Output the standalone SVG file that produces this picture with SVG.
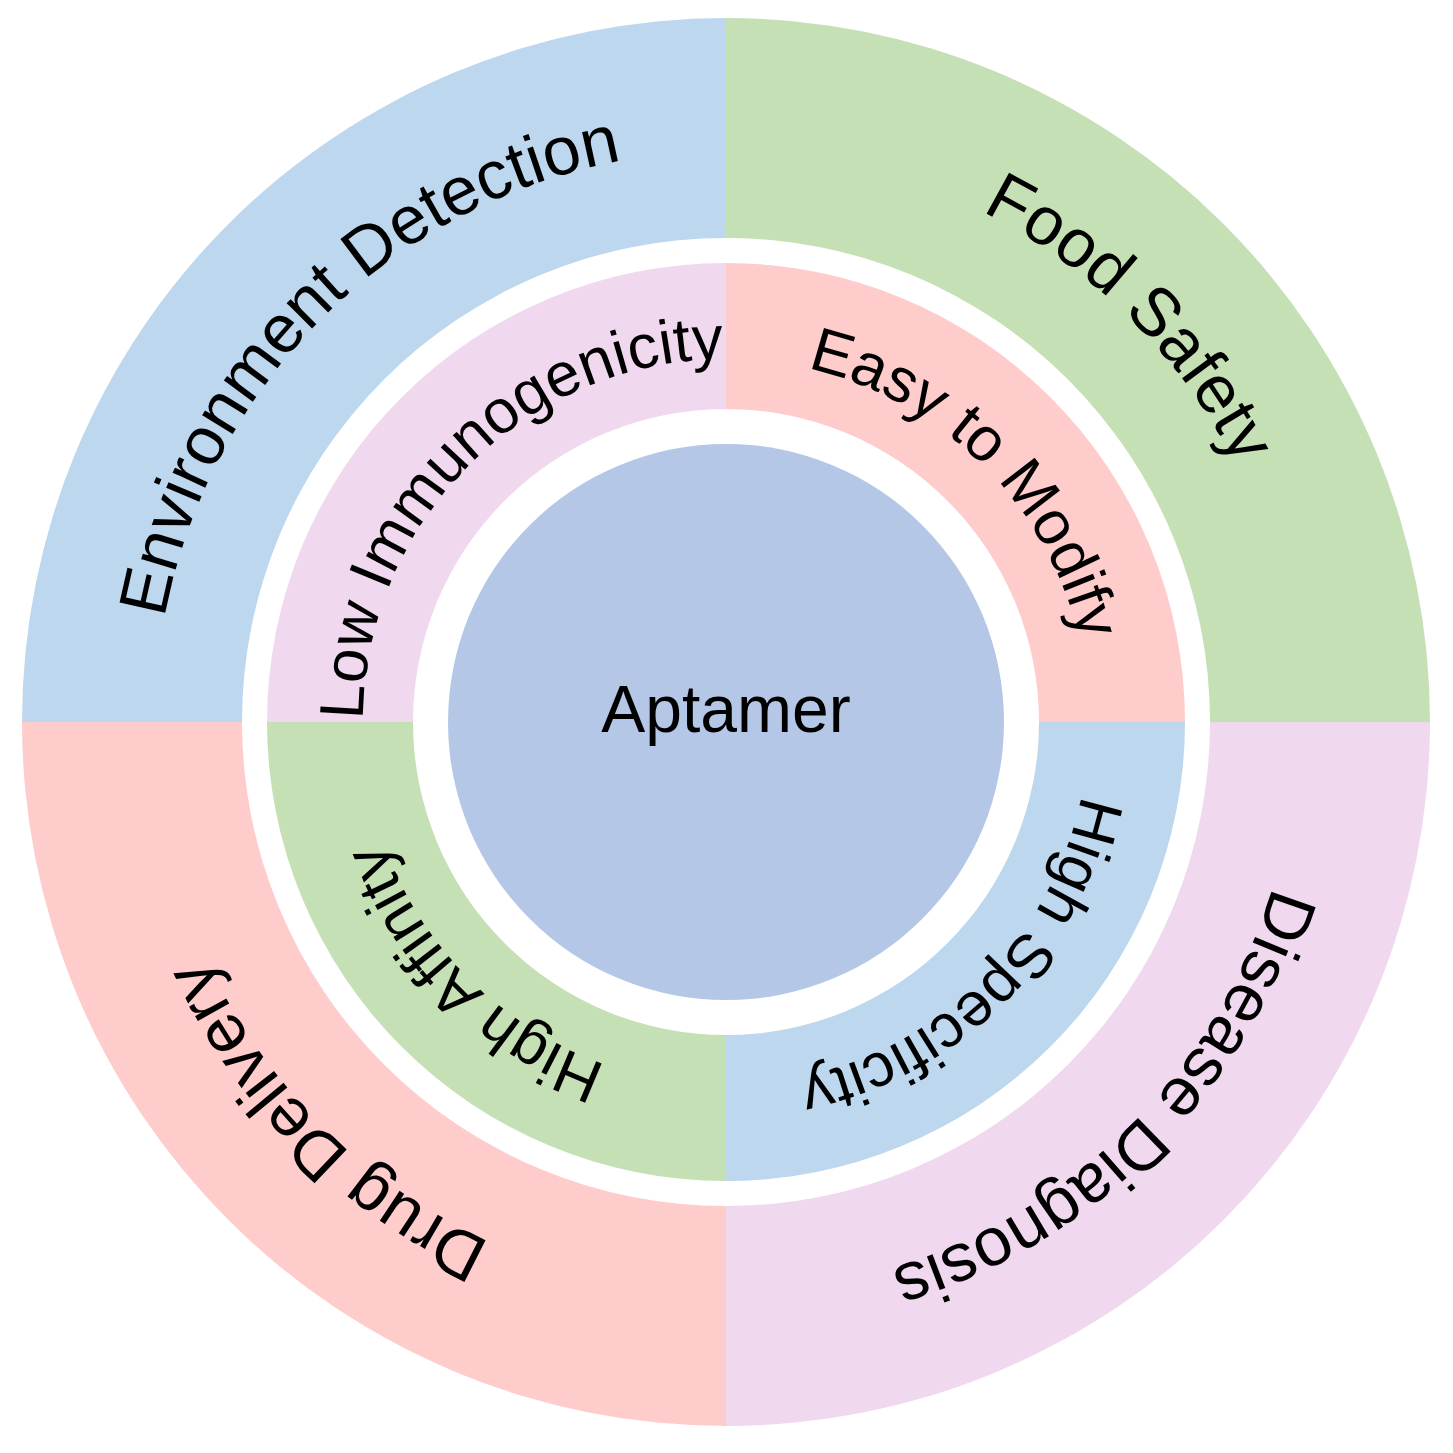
<svg xmlns="http://www.w3.org/2000/svg" width="1453" height="1453" viewBox="0 0 1453 1453">
<style>
.o{font-family:"Liberation Sans",Arial,sans-serif;font-size:68px;fill:#000}
.i{font-family:"Liberation Sans",Arial,sans-serif;font-size:62px;fill:#000}
</style>
<defs>
<path id="oTL" d="M155,722 A571,571 0 0 1 726,151"/>
<path id="oTR" d="M726,151 A571,571 0 0 1 1297,722"/>
<path id="oBR" d="M1297,722 A571,571 0 0 1 726,1293"/>
<path id="oBL" d="M726,1293 A571,571 0 0 1 155,722"/>
<path id="iTL" d="M363,722 A363,363 0 0 1 726,359"/>
<path id="iTR" d="M726,359 A363,363 0 0 1 1089,722"/>
<path id="iBR" d="M1089,722 A363,363 0 0 1 726,1085"/>
<path id="iBL" d="M726,1085 A363,363 0 0 1 363,722"/>
</defs>
<rect width="1453" height="1453" fill="#fff"/>
<g id="outer-ring">
<path id="env" d="M726,722 L22,722 A704,704 0 0 1 726,18 Z" fill="#BDD7EE"/>
<path id="food" d="M726,722 L726,18 A704,704 0 0 1 1430,722 Z" fill="#C5E0B4"/>
<path id="disease" d="M726,722 L1430,722 A704,704 0 0 1 726,1426 Z" fill="#F0D9EF"/>
<path id="drug" d="M726,722 L726,1426 A704,704 0 0 1 22,722 Z" fill="#FFCCCC"/>
<circle cx="726" cy="722" r="484" fill="#fff"/>
</g>
<g id="inner-ring">
<path id="lowimm" d="M726,722 L267,722 A459,459 0 0 1 726,263 Z" fill="#F0D9EF"/>
<path id="easy" d="M726,722 L726,263 A459,459 0 0 1 1185,722 Z" fill="#FFCCCC"/>
<path id="spec" d="M726,722 L1185,722 A459,459 0 0 1 726,1181 Z" fill="#BDD7EE"/>
<path id="aff" d="M726,722 L726,1181 A459,459 0 0 1 267,722 Z" fill="#C5E0B4"/>
<circle cx="726" cy="722" r="313" fill="#fff"/>
</g>
<g id="center">
<circle cx="726" cy="722" r="278" fill="#B4C7E7"/>
<text x="726" y="732" text-anchor="middle" font-family="Liberation Sans,Arial,sans-serif" font-size="66">Aptamer</text>
</g>
<g id="labels">
<text class="o" text-anchor="middle"><textPath href="#oTL" startOffset="50%">Environment Detection</textPath></text>
<text class="o" text-anchor="middle"><textPath href="#oTR" startOffset="50%">Food Safety</textPath></text>
<text class="o" text-anchor="middle"><textPath href="#oBR" startOffset="50%">Disease Diagnosis</textPath></text>
<text class="o" text-anchor="middle"><textPath href="#oBL" startOffset="50%">Drug Delivery</textPath></text>
<text class="i" text-anchor="middle"><textPath href="#iTL" startOffset="50%">Low Immunogenicity</textPath></text>
<text class="i" text-anchor="middle"><textPath href="#iTR" startOffset="50%">Easy to Modify</textPath></text>
<text class="i" text-anchor="middle"><textPath href="#iBR" startOffset="50%">High Specificity</textPath></text>
<text class="i" text-anchor="middle"><textPath href="#iBL" startOffset="50%">High Affinity</textPath></text>
</g>
</svg>
